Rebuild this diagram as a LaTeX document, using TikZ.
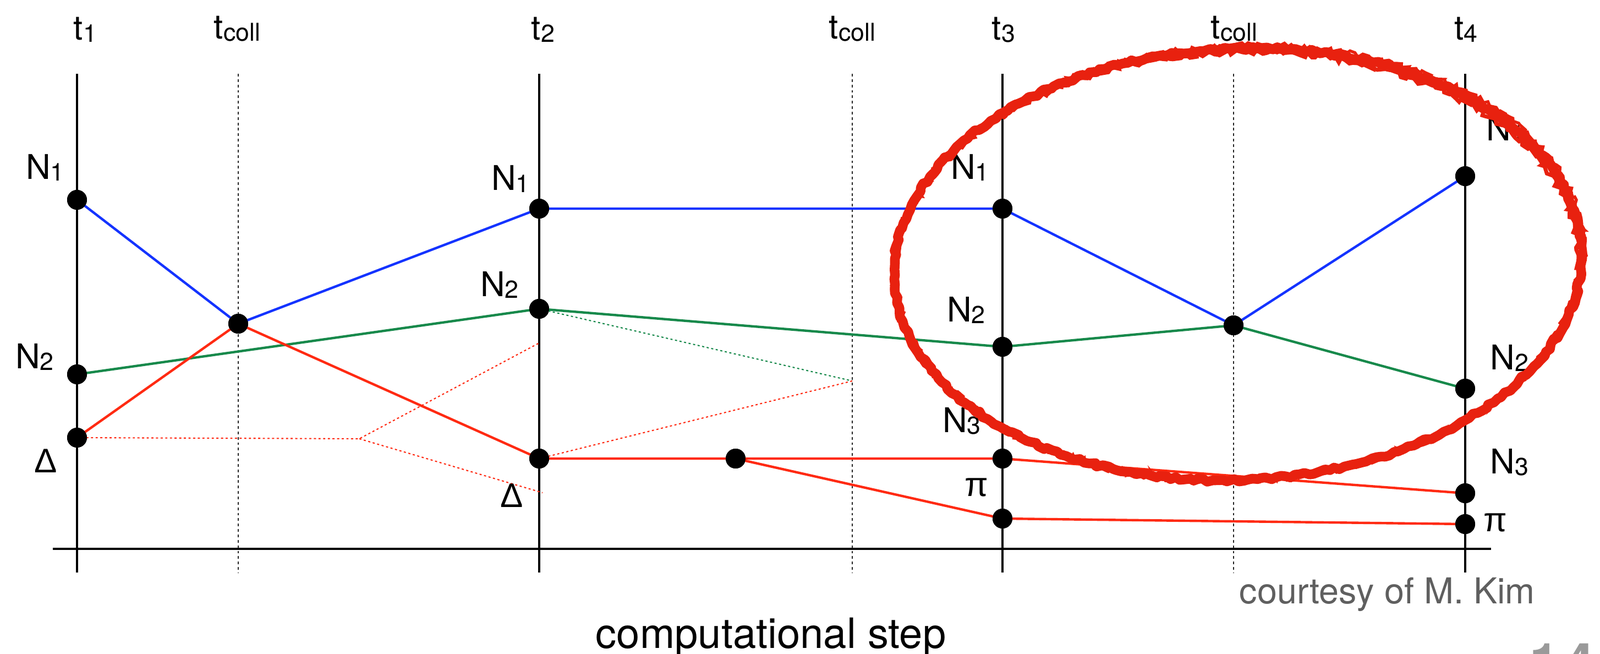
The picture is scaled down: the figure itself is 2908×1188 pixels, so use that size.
\documentclass[tikz,border=0pt]{standalone}
\usepackage{fontspec}
\setmainfont{TeX Gyre Heros}
\newfontfamily\grk{Liberation Sans}
\usetikzlibrary{decorations.pathmorphing}
\definecolor{lred}{HTML}{FF2A12}
\definecolor{lblue}{HTML}{1433FF}
\definecolor{lgreen}{HTML}{17894B}
\definecolor{circred}{HTML}{E8210F}
\definecolor{credgray}{HTML}{5F5F5F}
\definecolor{numgray}{HTML}{9A9A9A}
\newcommand\lbl[2]{#1\raisebox{-0.9pt}{\fontsize{12.7}{14}\selectfont #2}}
\tikzset{
  vline/.style={line width=1.35pt, black},
  collline/.style={line width=0.6pt, black!85, dash pattern=on 1.4pt off 1.4pt},
  axisline/.style={line width=1.4pt, black},
  bluepath/.style={line width=1.25pt, lblue},
  greenpath/.style={line width=1.25pt, lgreen},
  redpath/.style={line width=1.25pt, lred},
  reddots/.style={line width=0.6pt, lred, dash pattern=on 1.1pt off 1.3pt},
  greendots/.style={line width=0.6pt, lgreen, dash pattern=on 1.1pt off 1.3pt},
  dot/.style={circle, fill=black, inner sep=0pt, minimum size=0.36cm},
  lab/.style={inner sep=0pt, font=\fontsize{17.6}{20}\selectfont},
  circ/.style={line width=5pt, circred, line join=round,
    decorate, decoration={random steps, segment length=2.5pt, amplitude=0.8pt}},
}
\begin{document}
\begin{tikzpicture}[x=0.01cm, y=-0.01cm]
\useasboundingbox (0,0) rectangle (2908,1188);

% time lines
\coordinate (v1t) at (140,134);  \coordinate (v1b) at (140,1040);
\coordinate (v2t) at (980,134);  \coordinate (v2b) at (980,1040);
\coordinate (v3t) at (1822,134); \coordinate (v3b) at (1822,1040);
\coordinate (v4t) at (2663,134); \coordinate (v4b) at (2663,1040);
\coordinate (c1t) at (433,134);  \coordinate (c1b) at (433,1040);
\coordinate (c2t) at (1549,134); \coordinate (c2b) at (1549,1040);
\coordinate (c3t) at (2242,134); \coordinate (c3b) at (2242,1040);
\coordinate (axl) at (96,997);   \coordinate (axr) at (2710,997);

\draw[collline] (c1t) -- (c1b);
\draw[collline] (c2t) -- (c2b);
\draw[collline] (c3t) -- (c3b);
\draw[vline] (v1t) -- (v1b);
\draw[vline] (v2t) -- (v2b);
\draw[vline] (v3t) -- (v3b);
\draw[vline] (v4t) -- (v4b);
\draw[axisline] (axl) -- (axr);

% dots
\node[dot] (a1) at (140,363) {};
\node[dot] (a2) at (140,680) {};
\node[dot] (a3) at (140,795) {};
\node[dot] (c1) at (433,588) {};
\node[dot] (b1) at (980,379) {};
\node[dot] (b2) at (980,561) {};
\node[dot] (b3) at (980,833) {};
\node[dot] (m)  at (1337,833) {};
\node[dot] (d1) at (1822,379) {};
\node[dot] (d2) at (1822,630) {};
\node[dot] (d3) at (1822,833) {};
\node[dot] (d4) at (1822,942) {};
\node[dot] (c3) at (2242,591) {};
\node[dot] (e1) at (2663,320) {};
\node[dot] (e2) at (2663,706) {};
\node[dot] (e3) at (2663,896) {};
\node[dot] (e4) at (2663,952) {};

\coordinate (p)  at (653,797);
\coordinate (q1) at (980,623);
\coordinate (q2) at (986,895);
\coordinate (c2) at (1549,692);

% dotted
\draw[reddots] (a3.center) -- (p) -- (q1);
\draw[reddots] (p) -- (q2);
\draw[greendots] (b2.center) -- (c2);
\draw[reddots] (b3.center) -- (c2);

% paths
\draw[bluepath] (a1.center) -- (c1.center) -- (b1.center) -- (d1.center) -- (c3.center) -- (e1.center);
\draw[greenpath] (a2.center) -- (b2.center) -- (d2.center) -- (c3.center) -- (e2.center);
\draw[redpath] (a3.center) -- (c1.center) -- (b3.center) -- (m.center) -- (d3.center) -- (e3.center);
\draw[redpath] (m.center) -- (d4.center) -- (e4.center);

% redraw dots on top
\foreach \n in {a1,a2,a3,c1,b1,b2,b3,m,d1,d2,d3,d4,c3,e1,e2,e3,e4}
  \fill (\n) circle [radius=0.18cm];

% header labels
\node[lab, anchor=base] (lt1) at (155,73) {\lbl{t}{1}};
\node[lab, anchor=base] (lc1) at (431,71) {\lbl{t}{coll}};
\node[lab, anchor=base] (lt2) at (987,73) {\lbl{t}{2}};
\node[lab, anchor=base] (lc2) at (1549,71) {\lbl{t}{coll}};
\node[lab, anchor=base] (lt3) at (1824,73) {\lbl{t}{3}};
\node[lab, anchor=base] (lc3) at (2243,71) {\lbl{t}{coll}};
\node[lab, anchor=base] (lt4) at (2664,73) {\lbl{t}{4}};

% particle labels
\node[lab, anchor=base] (la1) at (82,325) {\lbl{N}{1}};
\node[lab, anchor=base] (la2) at (63,669) {\lbl{N}{2}};
\node[lab, anchor=base] (la3) at (83,858) {\grk Δ};
\node[lab, anchor=base] (lb1) at (928,346) {\lbl{N}{1}};
\node[lab, anchor=base] (lb2) at (908,538) {\lbl{N}{2}};
\node[lab, anchor=base] (lb3) at (930,921) {\grk Δ};
\node[lab, anchor=base] (ld1) at (1763,325) {\lbl{N}{1}};
\node[lab, anchor=base] (ld2) at (1756,584) {\lbl{N}{2}};
\node[lab, anchor=base] (ld3) at (1748,785) {\lbl{N}{3}};
\node[lab, anchor=base] (ld4) at (1775,901) {\grk π};
\node[lab, anchor=base west] (le1) at (2701,256) {\lbl{N}{1}};
\node[lab, anchor=base west] (le2) at (2708,671) {\lbl{N}{2}};
\node[lab, anchor=base west] (le3) at (2708,860) {\lbl{N}{3}};
\node[lab, anchor=base west] (le4) at (2696,965) {\grk π};

% captions
\node[inner sep=0pt, anchor=base, font=\fontsize{21.6}{24}\selectfont] (xlab) at (1401,1177) {computational step};
\node[inner sep=0pt, anchor=base west, text=credgray, font=\fontsize{18.4}{21}\selectfont] (cred) at (2252,1096) {courtesy of M. Kim};
\node[inner sep=0pt, anchor=base east, text=numgray, font=\fontsize{27}{30}\bfseries] (pnum) at (2898,1236) {1\hspace{0.12em}4};

% hand-drawn red ellipse
\draw[circ, rotate around={2.5:(2250,480)}] (2250,480) ellipse [x radius=625, y radius=392];
\draw[line width=2pt, circred, rotate around={2.0:(2248,484)}, decorate,
  decoration={random steps, segment length=2pt, amplitude=1.4pt}] (2248,484) ellipse [x radius=621, y radius=389];
\draw[line width=1.5pt, circred, rotate around={3.0:(2252,478)}, decorate,
  decoration={random steps, segment length=1.8pt, amplitude=1.2pt}] (2252,478) ellipse [x radius=629, y radius=396];
\end{tikzpicture}
\end{document}
